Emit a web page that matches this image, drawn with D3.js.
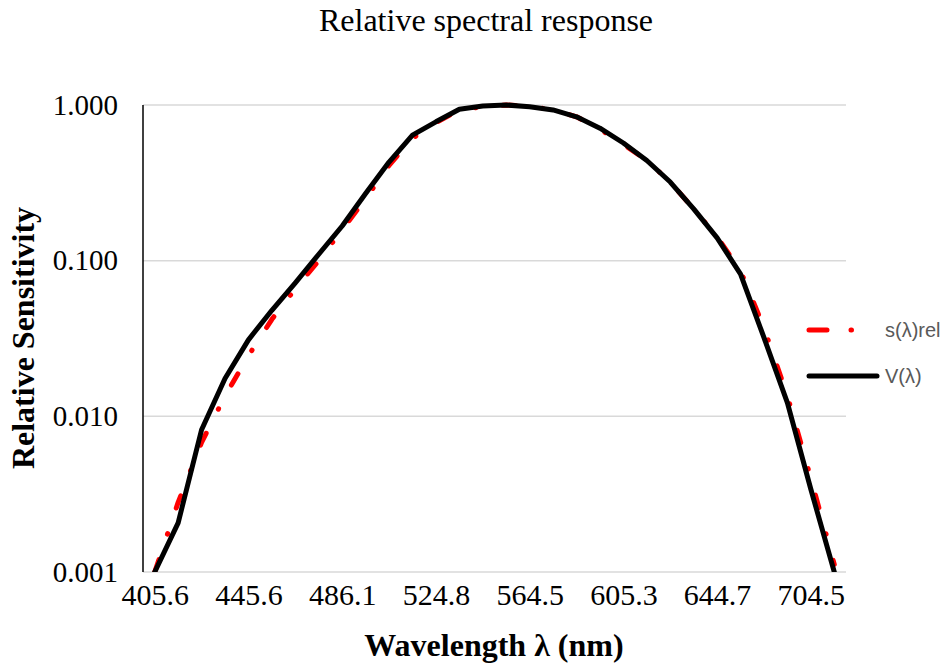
<!DOCTYPE html>
<html>
<head>
<meta charset="utf-8">
<script src="https://cdn.jsdelivr.net/npm/d3@7"></script>
<style>
  body { margin: 0; background: #fff; }
  svg { display: block; }
</style>
</head>
<body>
<div id="chart"></div>
<script>
(function () {
  /* ----------------------- Data ----------------------- */
  // wavelength categories (nm), every 4th one is shown on the axis
  const wavelengths = [
    405.6, 415.6, 425.6, 435.6, 445.6, 455.6, 465.6, 475.6, 486.1, 495.6,
    505.6, 515.6, 524.8, 534.8, 544.7, 554.6, 564.5, 574.6, 584.6, 594.6,
    605.3, 615.3, 625.3, 635.3, 644.7, 654.7, 669.6, 684.6, 704.5, 719.8
  ];
  const sRel = [
    0.001, 0.0028, 0.0068, 0.0135, 0.0245, 0.042, 0.066, 0.1, 0.158, 0.25,
    0.41, 0.61, 0.77, 0.93, 0.975, 1.0, 0.98, 0.93, 0.84, 0.7,
    0.56, 0.44, 0.32, 0.215, 0.142, 0.086, 0.037, 0.0135, 0.004, 0.00112
  ];
  const vLambda = [
    0.001, 0.00207, 0.0082, 0.0175, 0.031, 0.048, 0.072, 0.11, 0.167, 0.27,
    0.43, 0.64, 0.78, 0.94, 0.985, 1.0, 0.975, 0.93, 0.84, 0.71,
    0.57, 0.44, 0.32, 0.215, 0.14, 0.082, 0.032, 0.0122, 0.0034, 0.001
  ];
  const yTicks = [0.001, 0.01, 0.1, 1];

  const series = [
    { name: "s(λ)rel", values: sRel, color: "#ff0000", dash: "13,27,0.5,27" },
    { name: "V(λ)", values: vLambda, color: "#000000", dash: null }
  ];

  /* ----------------------- Dimensions ----------------------- */
  const W = 947, H = 666;
  const margin = { top: 105, right: 101, bottom: 94, left: 143 };
  const width = W - margin.left - margin.right;
  const height = H - margin.top - margin.bottom;
  const serif = "'Liberation Serif', 'Times New Roman', serif";

  const svg = d3.select("#chart").append("svg")
    .attr("width", W).attr("height", H);

  const g = svg.append("g")
    .attr("transform", `translate(${margin.left},${margin.top})`);

  /* ----------------------- Scales ----------------------- */
  const x = d3.scalePoint()
    .domain(wavelengths.map((d, i) => i))
    .range([0, width])
    .padding(0.5);
  const y = d3.scaleLog().domain([0.001, 1]).range([height, 0]);

  /* ----------------------- Gridlines ----------------------- */
  g.append("g")
    .selectAll("line")
    .data(yTicks)
    .join("line")
    .attr("x1", 0).attr("x2", width)
    .attr("y1", (d) => y(d)).attr("y2", (d) => y(d))
    .attr("stroke", "#d9d9d9")
    .attr("stroke-width", 1.5);

  // y axis line
  g.append("line")
    .attr("x1", 0).attr("x2", 0)
    .attr("y1", 0).attr("y2", height)
    .attr("stroke", "#000").attr("stroke-width", 1.5);

  /* ----------------------- Axes ----------------------- */
  const yAxis = d3.axisLeft(y)
    .tickValues(yTicks)
    .tickFormat(d3.format(".3f"))
    .tickSize(0)
    .tickPadding(25);
  const yAxisG = g.append("g").call(yAxis);
  yAxisG.select(".domain").remove();
  yAxisG.selectAll("text")
    .attr("font-family", serif)
    .attr("font-size", 29)
    .attr("fill", "#000");

  const xAxis = d3.axisBottom(x)
    .tickValues(x.domain().filter((i) => i % 4 === 0))
    .tickFormat((i) => d3.format(".1f")(wavelengths[i]))
    .tickSize(0)
    .tickPadding(12);
  const xAxisG = g.append("g")
    .attr("transform", `translate(0,${height})`)
    .call(xAxis);
  xAxisG.select(".domain").remove();
  xAxisG.selectAll("text")
    .attr("font-family", serif)
    .attr("font-size", 30)
    .attr("fill", "#000");

  /* ----------------------- Lines ----------------------- */
  svg.append("defs").append("clipPath").attr("id", "plot-clip")
    .append("rect")
    .attr("x", -2).attr("y", -4)
    .attr("width", width + 4).attr("height", height + 4);

  const line = d3.line()
    .x((d, i) => x(i))
    .y((d) => y(d));

  g.append("g")
    .attr("clip-path", "url(#plot-clip)")
    .selectAll("path")
    .data(series)
    .join("path")
    .attr("d", (d) => line(d.values))
    .attr("fill", "none")
    .attr("stroke", (d) => d.color)
    .attr("stroke-width", 5)
    .attr("stroke-linejoin", "round")
    .attr("stroke-linecap", "round")
    .attr("stroke-dasharray", (d) => d.dash);

  /* ----------------------- Legend ----------------------- */
  const legend = svg.append("g")
    .selectAll("g")
    .data(series)
    .join("g")
    .attr("transform", (d, i) => `translate(809,${330 + i * 46})`);

  legend.append("line")
    .attr("x1", 0).attr("x2", 68)
    .attr("stroke", (d) => d.color)
    .attr("stroke-width", 5)
    .attr("stroke-linecap", "round")
    .attr("stroke-dasharray", (d) => (d.dash ? "18,24,0.5,26,0.5,30" : null));

  legend.append("text")
    .attr("x", 76)
    .attr("dy", "0.35em")
    .attr("font-family", "'Liberation Sans', Arial, sans-serif")
    .attr("font-size", 20)
    .attr("fill", "#595959")
    .text((d) => d.name);

  /* ----------------------- Titles ----------------------- */
  svg.append("text")
    .attr("x", 486).attr("y", 31)
    .attr("text-anchor", "middle")
    .attr("font-family", serif)
    .attr("font-size", 32)
    .text("Relative spectral response");

  svg.append("text")
    .attr("transform", "translate(34,338) rotate(-90)")
    .attr("text-anchor", "middle")
    .attr("font-family", serif)
    .attr("font-weight", "bold")
    .attr("font-size", 32)
    .text("Relative Sensitivity");

  svg.append("text")
    .attr("x", 494).attr("y", 656)
    .attr("text-anchor", "middle")
    .attr("font-family", serif)
    .attr("font-weight", "bold")
    .attr("font-size", 32)
    .text("Wavelength λ (nm)");
})();
</script>
</body>
</html>
